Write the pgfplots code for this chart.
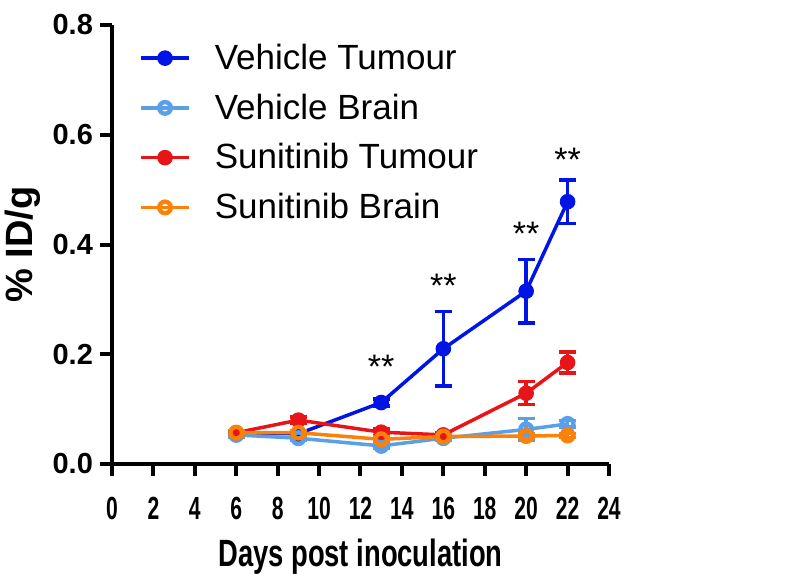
\documentclass[border=0pt]{standalone}
\usepackage{pgfplots}
\pgfplotsset{compat=1.18}
\usepackage{fontspec}
\usepackage{graphicx}
\setmainfont{Liberation Sans}
\definecolor{vt}{RGB}{0,20,230}
\definecolor{vb}{RGB}{90,160,232}
\definecolor{st}{RGB}{232,20,24}
\definecolor{sb}{RGB}{250,130,10}
\begin{document}
\begin{tikzpicture}
\path[use as bounding box] (-56pt,-55pt) rectangle (344pt,232pt);
\begin{axis}[
  at={(0,0)}, anchor=south west,
  scale only axis, width=248.5pt, height=219.5pt,
  xmin=0, xmax=24, ymin=0, ymax=0.8,
  axis x line=bottom, axis y line=left,
  axis line style={-, line width=2pt},
  every tick/.style={black, line width=2pt},
  tick align=outside, major tick length=6pt,
  xtick={0,2,...,24}, ytick={0,0.2,0.4,0.6,0.8},
  minor tick num=0,
  /pgf/number format/assume math mode=true,
  yticklabel style={font=\fontsize{14.5}{14.5}\selectfont\bfseries, /pgf/number format/.cd, fixed, fixed zerofill, precision=1},
  xticklabel style={font=\fontsize{16}{16}\selectfont\bfseries, yshift=-7pt},
  xticklabel={\scalebox{0.66}[1]{\pgfmathprintnumber{\tick}}},
  xlabel={\scalebox{0.72}[1]{Days post inoculation}},
  xlabel style={font=\fontsize{19}{19}\selectfont\bfseries, yshift=-3pt},
  ylabel={\% ID/g},
  ylabel style={font=\fontsize{19}{19}\selectfont\bfseries, yshift=-1pt},
  legend style={at={(0.042,0.976)}, anchor=north west, draw=none, fill=none,
    font=\fontsize{17.5}{17.5}\selectfont, row sep=6.7pt},
  legend cell align=left,
  legend image code/.code={
    \draw[#1] (0pt,0pt) -- (24pt,0pt);
    \draw[#1,only marks] plot coordinates {(12pt,0pt)};
    \path (34pt,0pt);
  },
  every axis plot/.append style={line width=1.75pt},
  error bars/error bar style={line width=1.75pt},
  error bars/error mark options={rotate=90, mark size=4.25pt, line width=1.75pt},
]
\addplot[color=vt, mark=*, mark size=3.4pt, mark options={solid, fill=vt, line width=1pt},
  error bars/.cd, y dir=both, y explicit]
  coordinates {(6,0.056) +- (0,0.004) (9,0.055) +- (0,0.004) (13,0.112) +- (0,0.006) (16,0.210) +- (0,0.0675) (20,0.315) +- (0,0.058) (22,0.478) +- (0,0.040)};
\addlegendentry{Vehicle Tumour}
\addplot[color=vb, mark=o, mark size=2.9pt, mark options={solid, line width=2.2pt},
  error bars/.cd, y dir=both, y explicit]
  coordinates {(6,0.053) +- (0,0.004) (9,0.047) +- (0,0.004) (13,0.033) +- (0,0.004) (16,0.047) +- (0,0.004) (20,0.063) +- (0,0.020) (22,0.073) +- (0,0.006)};
\addlegendentry{Vehicle Brain}
\addplot[color=st, mark=*, mark size=3.4pt, mark options={solid, fill=st, line width=1pt},
  error bars/.cd, y dir=both, y explicit]
  coordinates {(6,0.057) +- (0,0.004) (9,0.080) +- (0,0.006) (13,0.058) +- (0,0.006) (16,0.053) +- (0,0.004) (20,0.129) +- (0,0.021) (22,0.185) +- (0,0.019)};
\addlegendentry{Sunitinib Tumour}
\addplot[color=sb, mark=o, mark size=2.9pt, mark options={solid, line width=2.2pt},
  error bars/.cd, y dir=both, y explicit]
  coordinates {(6,0.057) +- (0,0.004) (9,0.057) +- (0,0.004) (13,0.045) +- (0,0.004) (16,0.050) +- (0,0.004) (20,0.051) +- (0,0.004) (22,0.052) +- (0,0.004)};
\addlegendentry{Sunitinib Brain}
\node[font=\fontsize{17}{17}\selectfont] at (axis cs:13,0.178) {**};
\node[font=\fontsize{17}{17}\selectfont] at (axis cs:16,0.325) {**};
\node[font=\fontsize{17}{17}\selectfont] at (axis cs:20,0.420) {**};
\node[font=\fontsize{17}{17}\selectfont] at (axis cs:22,0.555) {**};
\end{axis}
\end{tikzpicture}
\end{document}
